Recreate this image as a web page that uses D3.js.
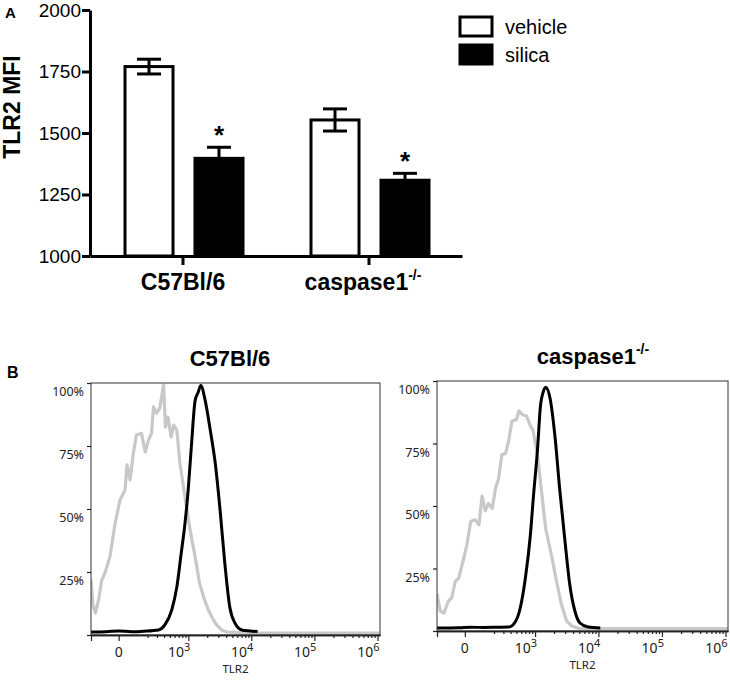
<!DOCTYPE html>
<html>
<head>
<meta charset="utf-8">
<script src="https://cdn.jsdelivr.net/npm/d3@7"></script>
<style>
  body { margin: 0; background: #fff; }
  svg { display: block; }
</style>
</head>
<body>
<svg id="chart" width="730" height="687"></svg>
<script>
// ---- panel A data
const groups = ["C57Bl/6", "caspase1"];
const treatments = ["vehicle", "silica"];
const vehicleMfi = [1770, 1553];
const vehicleSem = [30, 45];
const silicaMfi = [1397, 1308];
const silicaSem = [45, 28];
const mfiTicks = [1000, 1250, 1500, 1750, 2000];

// ---- panel B data: x in display units (arcsinh decades), y in % of max
const c57Isotype = [[1.46,22],[1.49,12],[1.53,8.7],[1.58,13.9],[1.63,21.8],[1.68,24.5],[1.76,31],[1.84,44],
  [1.92,53.6],[2.00,57.5],[2.03,67.5],[2.08,61.5],[2.13,72],[2.18,79.4],[2.26,80],[2.32,72.6],[2.37,77.4],
  [2.42,80],[2.45,90.5],[2.50,88],[2.55,90],[2.61,99.2],[2.64,82.5],[2.68,86.5],[2.73,78.6],[2.77,83.3],
  [2.82,81.3],[2.87,68],[2.95,54.8],[3.03,41.7],[3.11,31],[3.18,20.6],[3.26,13.9],[3.32,9.9],[3.40,6],
  [3.45,4],[3.53,2],[3.61,1.2],[4.0,0.8],[6.04,0.8]];
const c57Stained = [[1.46,1.2],[1.7,1.3],[1.9,1.6],[2.1,1.3],[2.3,1.5],[2.53,2],[2.63,4],[2.74,10],[2.82,19],
  [2.89,32.5],[2.95,44.4],[3.00,57.5],[3.05,74.6],[3.11,93],[3.16,96.4],[3.20,99],[3.27,93],[3.35,81.3],
  [3.43,68],[3.51,48.4],[3.58,28.6],[3.66,11],[3.74,4.8],[3.85,2],[3.98,1.6],[4.10,1.4]];
const caspIsotype = [[1.46,15],[1.51,8],[1.57,7.2],[1.64,12],[1.69,13.2],[1.75,20],[1.80,21],[1.88,29],
  [1.93,34.4],[1.99,43.8],[2.06,44.5],[2.12,42.5],[2.17,54],[2.22,48],[2.27,51],[2.33,49],[2.38,57],
  [2.43,61],[2.48,70.5],[2.54,71],[2.59,76.5],[2.64,84],[2.71,84.5],[2.75,88],[2.81,86.5],[2.87,86],
  [2.93,82],[2.97,80.5],[3.04,70.5],[3.10,57],[3.17,41],[3.26,30.5],[3.34,20],[3.42,10.5],[3.50,4],
  [3.58,2],[3.70,1],[6.04,1]];
const caspStained = [[1.46,1.2],[1.8,1.3],[2.0,1.5],[2.2,1.4],[2.4,1.5],[2.59,1.6],[2.70,4],[2.77,9.2],
  [2.85,21],[2.93,38.5],[2.98,54.5],[3.04,72],[3.09,90.5],[3.13,95.5],[3.17,97.5],[3.24,93],[3.32,77],
  [3.39,57],[3.47,37],[3.55,18.5],[3.63,8],[3.71,3.2],[3.84,1.6],[4.03,1.2]];

const pctTicks = [0, 25, 50, 75, 100];
const pctLabels = ["", "25%", "50%", "75%", "100%"];
const tlr2Major = [0, 1e3, 1e4, 1e5, 1e6];
const tlr2Labels = [["0", ""], ["10", "3"], ["10", "4"], ["10", "5"], ["10", "6"]];
const tlr2Minor = [200, 300, 400, 500, 600, 700, 800, 900]
  .concat(...[1e3, 1e4, 1e5].map(d => d3.range(2, 10).map(k => k * d)));

// arcsinh display transform of the flow axis
const asinhT = v => Math.asinh(v / 158) / Math.LN10 + 1.898;

const svg = d3.select("#chart");
const arial = "'Liberation Sans', Arial, Helvetica, sans-serif";
const flowFont = "'Noto Sans', 'DejaVu Sans', sans-serif";

// ================= panel A
const x0 = d3.scaleBand().domain(groups).range([90, 462]);
const x1 = d3.scaleBand().domain(treatments).range([35, 153]).paddingInner(0.314);
const yA = d3.scaleLinear().domain([1000, 2000]).range([256, 10]);

const bars = groups.flatMap((g, i) => [
  { g, t: "vehicle", v: vehicleMfi[i], e: vehicleSem[i], star: false },
  { g, t: "silica", v: silicaMfi[i], e: silicaSem[i], star: true }
]);

const gA = svg.append("g");
gA.selectAll("rect.bar")
  .data(bars)
  .join("rect")
  .attr("class", "bar")
  .attr("x", d => x0(d.g) + x1(d.t))
  .attr("y", d => yA(d.v))
  .attr("width", x1.bandwidth())
  .attr("height", d => yA(1000) - yA(d.v))
  .attr("fill", d => d.t === "vehicle" ? "#fff" : "#000")
  .attr("stroke", "#000")
  .attr("stroke-width", 3);

const err = gA.selectAll("g.err").data(bars).join("g").attr("class", "err")
  .attr("transform", d => `translate(${x0(d.g) + x1(d.t) + x1.bandwidth() / 2},0)`)
  .attr("stroke", "#000").attr("stroke-width", 3);
err.append("line").attr("y1", d => yA(d.v - d.e)).attr("y2", d => yA(d.v + d.e));
err.append("line").attr("x1", -12).attr("x2", 12).attr("y1", d => yA(d.v + d.e)).attr("y2", d => yA(d.v + d.e));
err.append("line").attr("x1", -12).attr("x2", 12).attr("y1", d => yA(d.v - d.e)).attr("y2", d => yA(d.v - d.e));

gA.selectAll("text.star").data(bars.filter(d => d.star)).join("text")
  .attr("class", "star")
  .attr("x", d => x0(d.g) + x1(d.t) + x1.bandwidth() / 2)
  .attr("y", d => yA(d.v + d.e) - 3)
  .attr("text-anchor", "middle")
  .attr("font-family", arial).attr("font-weight", "bold").attr("font-size", 26)
  .text("*");

const yAxisA = gA.append("g").attr("transform", "translate(90,0)")
  .call(d3.axisLeft(yA).tickValues(mfiTicks).tickSize(8).tickSizeOuter(0).tickPadding(1)
    .tickFormat(d3.format("d")));
const xAxisA = gA.append("g").attr("transform", "translate(0,256)")
  .call(d3.axisBottom(x0).tickSize(9).tickSizeOuter(0).tickFormat(""));
[yAxisA, xAxisA].forEach(a => {
  a.selectAll("path, line").attr("stroke", "#000").attr("stroke-width", 3);
});
yAxisA.selectAll("text").attr("font-family", arial).attr("font-size", 19).attr("fill", "#000");

const xlab = gA.selectAll("text.glab").data(groups).join("text")
  .attr("class", "glab")
  .attr("x", d => x0(d) + x0.bandwidth() / 2 + (d === "caspase1" ? -6 : 0))
  .attr("y", 290)
  .attr("text-anchor", "middle")
  .attr("font-family", arial).attr("font-weight", "bold").attr("font-size", 23)
  .text(d => d);
xlab.filter(d => d === "caspase1").append("tspan")
  .attr("dy", -10).attr("font-size", 14).text("-/-");

gA.append("text")
  .attr("transform", "translate(20,107) rotate(-90)")
  .attr("text-anchor", "middle")
  .attr("font-family", arial).attr("font-weight", "bold").attr("font-size", 23)
  .text("TLR2 MFI");
gA.append("text").attr("x", 5).attr("y", 18)
  .attr("font-family", arial).attr("font-weight", "bold").attr("font-size", 15).text("A");

// legend
const leg = gA.append("g").attr("transform", "translate(460,17)");
leg.selectAll("rect").data(treatments).join("rect")
  .attr("x", 0).attr("y", (d, i) => i * 28)
  .attr("width", 32).attr("height", 19)
  .attr("fill", d => d === "vehicle" ? "#fff" : "#000")
  .attr("stroke", "#000").attr("stroke-width", 3);
leg.selectAll("text").data(treatments).join("text")
  .attr("x", 45).attr("y", (d, i) => i * 28 + 17)
  .attr("font-family", arial).attr("font-size", 20)
  .text(d => d);

// ================= panel B
svg.append("text").attr("x", 7).attr("y", 378)
  .attr("font-family", arial).attr("font-weight", "bold").attr("font-size", 16).text("B");

function histPanel(o) {
  const g = svg.append("g");
  const x = d3.scaleLinear().domain([1.46, 6.04]).range([o.left, o.right]);
  const y = d3.scaleLinear().domain([0, 100]).range([o.bottom, o.top]);
  const clipId = "clip" + o.left;
  g.append("clipPath").attr("id", clipId).append("rect")
    .attr("x", o.left).attr("y", o.top - 2)
    .attr("width", o.right - o.left).attr("height", o.bottom - o.top + 2);

  const line = d3.line().x(d => x(d[0])).y(d => y(d[1]));
  g.append("path").datum(o.isotype)
    .attr("clip-path", `url(#${clipId})`)
    .attr("d", line).attr("fill", "none")
    .attr("stroke", "#c8c8c8").attr("stroke-width", 3.2).attr("stroke-linejoin", "round");
  g.append("path").datum(o.stained)
    .attr("clip-path", `url(#${clipId})`)
    .attr("d", line.curve(d3.curveMonotoneX)).attr("fill", "none")
    .attr("stroke", "#000").attr("stroke-width", 3).attr("stroke-linejoin", "round");

  g.append("rect")
    .attr("x", o.left).attr("y", o.top)
    .attr("width", o.right - o.left).attr("height", o.bottom - o.top)
    .attr("fill", "none").attr("stroke", "#333").attr("stroke-width", 1);

  // x ticks
  const ax = g.append("g").attr("transform", `translate(0,${o.bottom})`);
  ax.append("g").call(d3.axisBottom(x).tickValues([x.domain()[0]].concat(tlr2Major.map(asinhT)))
    .tickSize(6).tickSizeOuter(0).tickFormat(""));
  ax.append("g").call(d3.axisBottom(x).tickValues(tlr2Minor.map(asinhT))
    .tickSize(3).tickSizeOuter(0).tickFormat(""));
  ax.selectAll("path").attr("stroke", "#222").attr("stroke-width", 1.5);
  ax.selectAll("line").attr("stroke", "#222").attr("stroke-width", 1.2);

  const lab = ax.selectAll("text.tl").data(tlr2Major).join("text")
    .attr("class", "tl")
    .attr("x", (d, i) => i === 0 ? x(asinhT(d)) : x(asinhT(d)) + 2)
    .attr("y", 22)
    .attr("text-anchor", (d, i) => i === 0 ? "middle" : "end")
    .attr("font-family", flowFont).attr("font-size", 14).attr("fill", "#222");
  lab.append("tspan").text((d, i) => tlr2Labels[i][0]);
  lab.append("tspan").attr("dy", -6).attr("font-size", 11).text((d, i) => tlr2Labels[i][1]);

  g.append("text")
    .attr("x", (o.left + o.right) / 2).attr("y", o.bottom + 38)
    .attr("text-anchor", "middle")
    .attr("font-family", flowFont).attr("font-size", 11.5).attr("fill", "#222")
    .text("TLR2");

  // y ticks
  const ay = g.append("g").attr("transform", `translate(${o.left},0)`)
    .call(d3.axisLeft(y).tickValues(pctTicks).tickSize(4).tickSizeOuter(0).tickFormat((d, i) => pctLabels[i]));
  ay.select("path").remove();
  ay.selectAll("line").attr("stroke", "#222").attr("stroke-width", 1.2);
  ay.selectAll("text")
    .attr("font-family", flowFont).attr("font-size", 12.5).attr("fill", "#222")
    .attr("dy", "1.0em");

  const t = g.append("text")
    .attr("x", o.titleX).attr("y", o.top - 17)
    .attr("text-anchor", "middle")
    .attr("font-family", arial).attr("font-weight", "bold").attr("font-size", 22)
    .text(o.title);
  if (o.sup) t.append("tspan").attr("dy", -10).attr("font-size", 14).text(o.sup);
}

histPanel({ left: 91, right: 380, top: 383, bottom: 635, title: "C57Bl/6", titleX: 230,
  isotype: c57Isotype, stained: c57Stained });
histPanel({ left: 437, right: 728, top: 381, bottom: 631, title: "caspase1", sup: "-/-", titleX: 593,
  isotype: caspIsotype, stained: caspStained });
</script>
</body>
</html>
